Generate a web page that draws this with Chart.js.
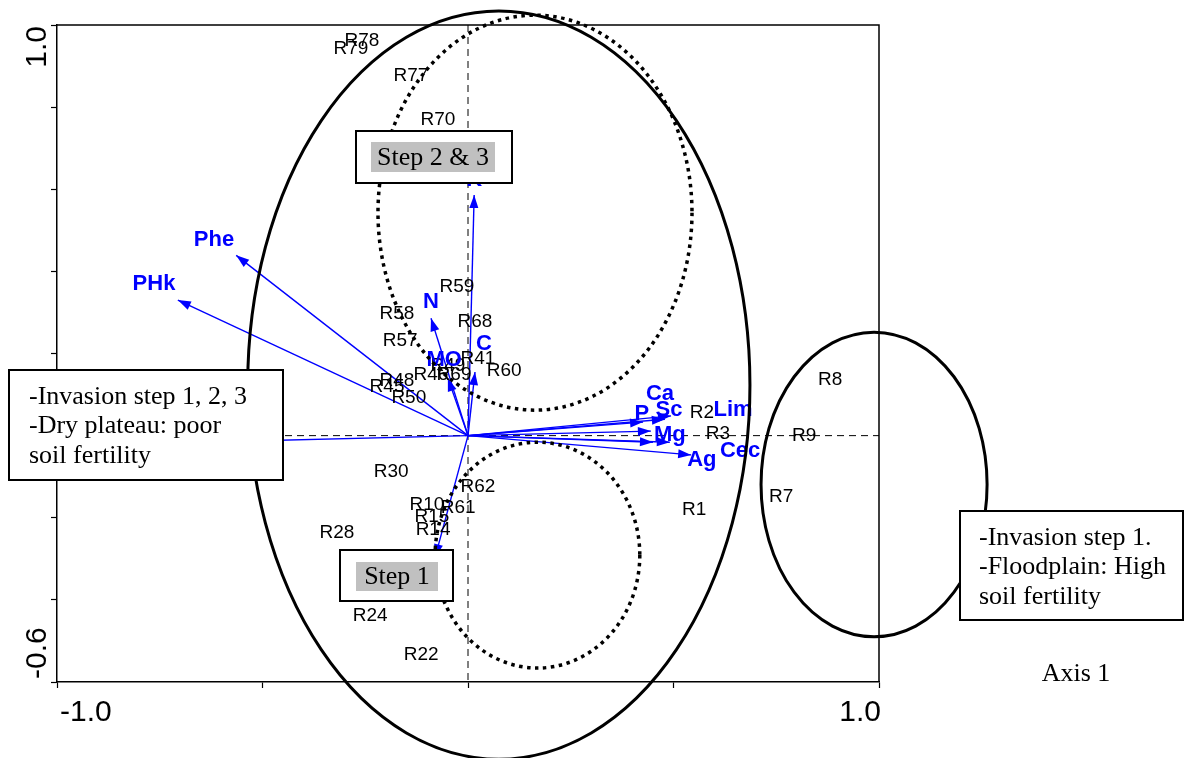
<!DOCTYPE html>
<html><head><meta charset="utf-8">
<script src="https://cdn.jsdelivr.net/npm/chart.js@4.4.1/dist/chart.umd.min.js"></script>
<style>html,body{margin:0;padding:0;background:#fff;}#wrap{width:1187px;height:758px;position:relative;}</style>
</head><body><div id="wrap"><canvas id="c" width="1187" height="758"></canvas></div>
<script>
// Site scores (label positions, axis units)
const siteNames = ['R78','R79','R77','R70','R59','R58','R68','R57','R41','R60','R49','R46','R69','R48','R45','R50','R2','R3','R9','R8','R7','R1','R30','R62','R10','R61','R15','R14','R28','R24','R22'];
const siteX = [-0.258,-0.285,-0.139,-0.073,-0.027,-0.173,0.017,-0.165,0.024,0.088,-0.049,-0.090,-0.034,-0.173,-0.197,-0.144,0.569,0.608,0.818,0.881,0.762,0.550,-0.187,0.024,-0.100,-0.024,-0.088,-0.085,-0.319,-0.238,-0.114];
const siteY = [0.961,0.942,0.876,0.768,0.362,0.296,0.277,0.231,0.187,0.157,0.170,0.148,0.148,0.133,0.120,0.092,0.055,0.004,0.000,0.135,-0.150,-0.181,-0.089,-0.125,-0.169,-0.176,-0.198,-0.230,-0.237,-0.439,-0.534];

// Variable vectors (arrow tips) and their label positions
const varNames = ['K','Phe','PHk','N','MO','C','Ca','Sc','P','Mg','Lim','Ag','Cec','',''];
const varX = [0.015,-0.564,-0.706,-0.090,-0.049,0.017,0.494,0.479,0.426,0.445,0.491,0.543,0.450,-0.657,-0.080];
const varY = [0.586,0.439,0.330,0.286,0.140,0.155,0.048,0.040,0.033,0.011,-0.016,-0.047,-0.016,-0.016,-0.296];
const varLabelX = [0.015,-0.618,-0.764,-0.090,-0.058,0.039,0.467,0.489,0.423,0.491,0.645,0.569,0.662,0,0];
const varLabelY = [0.622,0.476,0.369,0.325,0.184,0.223,0.101,0.062,0.052,0.001,0.062,-0.059,-0.038,0,0];

// Tick labels
const xTickValues = [-1.0, 1.0];
const xTickLabels = ['-1.0','1.0'];
const yTickValues = [-0.6, 1.0];
const yTickLabels = ['-0.6','1.0'];

// Group ellipses (centre x, centre y, radius x, radius y in axis units)
const ellipseCX = [0.075, 0.988, 0.163, 0.169];
const ellipseCY = [0.123, -0.119, 0.543, -0.291];
const ellipseRX = [0.611, 0.275, 0.382, 0.249];
const ellipseRY = [0.911, 0.371, 0.481, 0.275];
const ellipseDotted = [false, false, true, true];

const BLUE = '#0000ff';

const datasets = varNames.map((n,i)=>({
  label: n || 'v'+i,
  data: [{x:0,y:0},{x:varX[i],y:varY[i]}],
  showLine: true, borderColor: BLUE, borderWidth: 1.4, pointRadius: 0, fill:false
}));
datasets.push({label:'sites', data: siteX.map((x,i)=>({x:x,y:siteY[i]})), pointRadius:0, showLine:false});

const overlay = {
  id:'overlay',
  beforeDatasetsDraw(chart){
    const ctx = chart.ctx, xs = chart.scales.x, ys = chart.scales.y, a = chart.chartArea;
    ctx.save();
    ctx.strokeStyle = '#000'; ctx.lineWidth = 1; ctx.setLineDash([7,5]);
    ctx.beginPath();
    ctx.moveTo(xs.getPixelForValue(0), a.top); ctx.lineTo(xs.getPixelForValue(0), a.bottom);
    ctx.moveTo(a.left, ys.getPixelForValue(0)); ctx.lineTo(a.right, ys.getPixelForValue(0));
    ctx.stroke();
    ctx.restore();
  },
  afterDatasetsDraw(chart){
    const ctx = chart.ctx, xs = chart.scales.x, ys = chart.scales.y, a = chart.chartArea;
    const X = v=>xs.getPixelForValue(v), Y = v=>ys.getPixelForValue(v);
    ctx.save();
    // arrowheads
    ctx.fillStyle = BLUE;
    for (let i=0;i<varNames.length;i++){
      const x0=X(0), y0=Y(0), x1=X(varX[i]), y1=Y(varY[i]);
      const ang=Math.atan2(y1-y0,x1-x0), L=13, W=4.5;
      ctx.beginPath();
      ctx.moveTo(x1,y1);
      ctx.lineTo(x1-L*Math.cos(ang)+W*Math.sin(ang), y1-L*Math.sin(ang)-W*Math.cos(ang));
      ctx.lineTo(x1-L*Math.cos(ang)-W*Math.sin(ang), y1-L*Math.sin(ang)+W*Math.cos(ang));
      ctx.closePath(); ctx.fill();
    }
    // site labels
    ctx.fillStyle='#000'; ctx.font='19px "Liberation Sans", Arial, sans-serif';
    ctx.textAlign='center'; ctx.textBaseline='middle';
    for (let i=0;i<siteNames.length;i++) ctx.fillText(siteNames[i], X(siteX[i]), Y(siteY[i]));
    // variable labels
    ctx.fillStyle=BLUE; ctx.font='bold 22px "Liberation Sans", Arial, sans-serif';
    for (let i=0;i<varNames.length;i++) if (varNames[i]) ctx.fillText(varNames[i], X(varLabelX[i]), Y(varLabelY[i]));
    // frame top/right
    ctx.strokeStyle='#000'; ctx.lineWidth=1.5; ctx.setLineDash([]);
    ctx.beginPath(); ctx.moveTo(a.left,a.top); ctx.lineTo(a.right,a.top); ctx.lineTo(a.right,a.bottom); ctx.stroke();
    // ellipses
    for (let i=0;i<ellipseCX.length;i++){
      const cx=X(ellipseCX[i]), cy=Y(ellipseCY[i]);
      const rx=Math.abs(X(ellipseCX[i]+ellipseRX[i])-cx), ry=Math.abs(Y(ellipseCY[i]+ellipseRY[i])-cy);
      ctx.beginPath(); ctx.ellipse(cx,cy,rx,ry,0,0,Math.PI*2);
      if (ellipseDotted[i]) { ctx.lineWidth=3.5; ctx.setLineDash([3.5,4.5]); }
      else { ctx.lineWidth=3; ctx.setLineDash([]); }
      ctx.strokeStyle='#000'; ctx.stroke();
    }
    ctx.setLineDash([]);
    // annotation boxes
    function box(x1,y1,x2,y2){ ctx.fillStyle='#fff'; ctx.fillRect(x1,y1,x2-x1,y2-y1); ctx.lineWidth=2; ctx.strokeStyle='#000'; ctx.strokeRect(x1,y1,x2-x1,y2-y1); }
    const serif='26px "Liberation Serif", "Times New Roman", serif';
    box(356,131,512,183);
    ctx.fillStyle='#c0c0c0'; ctx.fillRect(371,142,124,30);
    ctx.fillStyle='#000'; ctx.font=serif; ctx.textAlign='center'; ctx.textBaseline='middle';
    ctx.fillText('Step 2 & 3',433,158);
    box(340,550,453,601);
    ctx.fillStyle='#c0c0c0'; ctx.fillRect(356,562,82,29);
    ctx.fillStyle='#000'; ctx.fillText('Step 1',397,577);
    box(9,370,283,480);
    ctx.fillStyle='#000'; ctx.textAlign='left';
    ctx.fillText('-Invasion step 1, 2, 3',29,397);
    ctx.fillText('-Dry plateau: poor',29,426);
    ctx.fillText('soil fertility',29,456);
    box(960,511,1183,620);
    ctx.fillStyle='#000';
    ctx.fillText('-Invasion step 1.',979,538);
    ctx.fillText('-Floodplain: High',979,567);
    ctx.fillText('soil fertility',979,597);
    ctx.textAlign='center';
    ctx.fillText('Axis 1',1076,674);
    // tick labels
    ctx.font='30px "Liberation Sans", Arial, sans-serif';
    ctx.textBaseline='middle';
    for (let i=0;i<xTickValues.length;i++){
      ctx.textAlign = i===0 ? 'left' : 'right';
      ctx.fillText(xTickLabels[i], X(xTickValues[i]) + (i===0?3:2), 713);
    }
    for (let i=0;i<yTickValues.length;i++){
      ctx.save();
      const py = Y(yTickValues[i]) + (i===0 ? -3 : 1);
      ctx.translate(38, py); ctx.rotate(-Math.PI/2);
      ctx.textAlign = i===0 ? 'left' : 'right';
      ctx.fillText(yTickLabels[i],0,0);
      ctx.restore();
    }
    ctx.restore();
  }
};

new Chart(document.getElementById('c'), {
  type:'scatter',
  data:{datasets},
  options:{
    responsive:false, animation:false, devicePixelRatio:1,
    layout:{padding:{top:25,right:308,left:0,bottom:0}},
    plugins:{legend:{display:false}, tooltip:{enabled:false}},
    scales:{
      x:{type:'linear',min:-1,max:1,
         ticks:{stepSize:0.5, display:false},
         grid:{drawOnChartArea:false, drawTicks:true, tickLength:6, tickColor:'#000', tickWidth:1.2},
         border:{display:true,color:'#000',width:1.5},
         afterFit(s){ s.height = 76; }},
      y:{type:'linear',min:-0.6,max:1,
         ticks:{stepSize:0.2, display:false},
         grid:{drawOnChartArea:false, drawTicks:true, tickLength:6, tickColor:'#000', tickWidth:1.2},
         border:{display:true,color:'#000',width:1.5},
         afterFit(s){ s.width = 57; }}
    }
  },
  plugins:[overlay]
});
</script></body></html>
